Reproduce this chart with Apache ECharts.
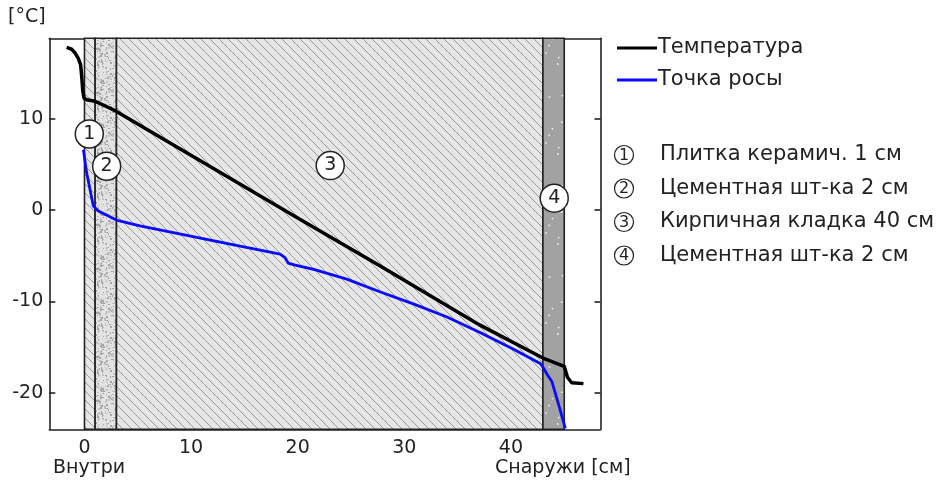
<!DOCTYPE html>
<html><head><meta charset="utf-8">
<script src="https://cdn.jsdelivr.net/npm/echarts@6/dist/echarts.min.js"></script>
<style>html,body{margin:0;padding:0;background:#fff}#c{width:940px;height:485px}</style>
</head><body><div id="c"></div>
<script>
// ---- data ----
const tempX = [-1.67, -1.2, -0.89, -0.58, -0.36, -0.26, -0.17, -0.05, 0.2, 1.0, 1.76, 3.0, 20.2, 27.7, 37.1, 43.0, 45.0, 45.3, 45.7, 46.8];
const tempY = [17.8, 17.6, 17.2, 16.6, 15.9, 14.6, 13.2, 12.26, 12.07, 11.9, 11.5, 10.8, -1.0, -6.1, -12.6, -16.2, -17.1, -18.3, -18.9, -19.0];
const dewX = [-0.1, 0.2, 0.52, 0.83, 1.3, 3.0, 5.2, 13.66, 18.35, 18.8, 19.1, 19.76, 21.5, 24.6, 27.7, 30.9, 34.0, 37.1, 40.2, 42.75, 43.0, 43.4, 43.85, 44.5, 45.1];
const dewY = [6.6, 4.1, 2.26, 0.44, -0.1, -1.1, -1.74, -3.74, -4.83, -5.2, -5.8, -6.03, -6.5, -7.56, -8.94, -10.3, -11.7, -13.4, -15.2, -16.8, -17.2, -18.0, -18.8, -21.4, -23.9];
const layerStart = [0, 1, 3, 43];
const layerEnd = [1, 3, 43, 45];
const layerNames = ['Плитка керамич. 1 см', 'Цементная шт-ка 2 см', 'Кирпичная кладка 40 см', 'Цементная шт-ка 2 см'];
const layerTexture = ['hatch', 'speckle', 'hatch', 'dots'];
const markerX = [0.45, 2.08, 23.05, 44.06];
const markerY = [8.33, 4.8, 4.87, 1.3];
const markerLabels = ['1', '2', '3', '4'];
const xTicks = [0, 10, 20, 30, 40];
const yTicks = [-20, -10, 0, 10];
const seriesNames = ['Температура', 'Точка росы'];
const seriesColors = ['#000000', '#0a0aff'];

// ---- textures ----
function makeCanvas(w, h) { const c = document.createElement('canvas'); c.width = w; c.height = h; return c; }
function lcg(seed) { let s = seed; return () => { s = (s * 1103515245 + 12345) % 2147483648; return s / 2147483648; }; }
function hatchTile() {
  const s = 9, c = makeCanvas(s, s), g = c.getContext('2d');
  g.fillStyle = '#e6e6e6'; g.fillRect(0, 0, s, s);
  g.strokeStyle = '#9a9a9a'; g.lineWidth = 1;
  for (const k of [-s, 0, s]) { g.beginPath(); g.moveTo(k - 1, -1); g.lineTo(k + s + 1, s + 1); g.stroke(); }
  return c;
}
function speckleTile() {
  const w = 30, h = 44, c = makeCanvas(w, h), g = c.getContext('2d');
  g.fillStyle = '#e2e2e2'; g.fillRect(0, 0, w, h);
  const r = lcg(11);
  for (let i = 0; i < 170; i++) {
    g.fillStyle = r() < 0.5 ? '#a4a4a4' : '#c0c0c0';
    const x = Math.floor(r() * w), y = Math.floor(r() * h);
    g.fillRect(x, y, r() < 0.5 ? 2 : 1, r() < 0.5 ? 2 : 1);
  }
  return c;
}
function dotsTile() {
  const w = 60, h = 90, c = makeCanvas(w, h), g = c.getContext('2d');
  g.fillStyle = '#a2a2a2'; g.fillRect(0, 0, w, h);
  const r = lcg(5);
  g.fillStyle = '#f0f0f0';
  for (let i = 0; i < 22; i++) { g.beginPath(); g.arc(r() * w, r() * h, 0.9, 0, Math.PI * 2); g.fill(); }
  return c;
}
const textures = { hatch: hatchTile(), speckle: speckleTile(), dots: dotsTile() };

const FONT = 'DejaVu Sans';
const chart = echarts.init(document.getElementById('c'), null, { renderer: 'canvas' });

const axisLineStyle = { color: '#222', width: 1.6 };
const legendRowsTop = [48, 80];
const legendRowsBottom = [155, 188.5, 222, 255.5];
const graphics = [
  { type: 'text', left: 8, top: 8, style: { text: '[°C]', font: '19px ' + FONT, fill: '#222' } },
  { type: 'text', left: 53, top: 459, style: { text: 'Внутри', font: '19px ' + FONT, fill: '#222' } },
  { type: 'text', left: 495, top: 459, style: { text: 'Снаружи [см]', font: '19px ' + FONT, fill: '#222' } }
];
seriesNames.forEach((n, i) => {
  graphics.push({ type: 'line', shape: { x1: 617, y1: legendRowsTop[i], x2: 657, y2: legendRowsTop[i] }, style: { stroke: seriesColors[i], lineWidth: 3 } });
  graphics.push({ type: 'text', x: 658, y: legendRowsTop[i], style: { text: n, font: '21px ' + FONT, fill: '#222', verticalAlign: 'middle' } });
});
layerNames.forEach((n, i) => {
  graphics.push({ type: 'circle', shape: { cx: 624, cy: legendRowsBottom[i], r: 9.5 }, style: { fill: '#fff', stroke: '#222', lineWidth: 1.2 } });
  graphics.push({ type: 'text', x: 624, y: legendRowsBottom[i] + 0.5, style: { text: markerLabels[i], font: '16px ' + FONT, fill: '#222', align: 'center', verticalAlign: 'middle' } });
  graphics.push({ type: 'text', x: 660, y: legendRowsBottom[i], style: { text: n, font: '21px ' + FONT, fill: '#222', verticalAlign: 'middle' } });
});

const option = {
  animation: false,
  backgroundColor: '#fff',
  textStyle: { fontFamily: FONT },
  grid: { left: 49.3, right: 339.5, top: 38.3, bottom: 55.7, containLabel: false },
  xAxis: [
    { type: 'value', min: -3.3, max: 48.4, position: 'bottom',
      axisLine: { show: true, onZero: false, lineStyle: axisLineStyle },
      axisTick: { show: true, inside: true, length: 6, customValues: xTicks, lineStyle: axisLineStyle },
      axisLabel: { customValues: xTicks, fontSize: 19, color: '#222', margin: 9, fontFamily: FONT },
      splitLine: { show: false } },
    { type: 'value', min: -3.3, max: 48.4, position: 'top',
      axisLine: { show: true, onZero: false, lineStyle: axisLineStyle },
      axisTick: { show: true, inside: true, length: 6, customValues: xTicks, lineStyle: axisLineStyle },
      axisLabel: { show: false }, splitLine: { show: false } }
  ],
  yAxis: [
    { type: 'value', min: -24, max: 18.8, position: 'left',
      axisLine: { show: true, onZero: false, lineStyle: axisLineStyle },
      axisTick: { show: true, inside: true, length: 6, customValues: yTicks, lineStyle: axisLineStyle },
      axisLabel: { customValues: yTicks, fontSize: 19, color: '#222', margin: 6, fontFamily: FONT },
      splitLine: { show: false } },
    { type: 'value', min: -24, max: 18.8, position: 'right',
      axisLine: { show: true, onZero: false, lineStyle: axisLineStyle },
      axisTick: { show: true, inside: true, length: 6, customValues: yTicks, lineStyle: axisLineStyle },
      axisLabel: { show: false }, splitLine: { show: false } }
  ],
  graphic: graphics,
  series: [
    { type: 'custom', name: 'layers', z: 1,
      data: layerStart.map((s, i) => [s, layerEnd[i], i]),
      encode: { x: [0, 1] },
      renderItem: (params, api) => {
        const cs = params.coordSys;
        const x0 = api.coord([api.value(0), 0])[0];
        const x1 = api.coord([api.value(1), 0])[0];
        const idx = api.value(2);
        return { type: 'rect', shape: { x: x0, y: cs.y, width: x1 - x0, height: cs.height },
          style: { fill: { image: textures[layerTexture[idx]], repeat: 'repeat' }, stroke: '#222', lineWidth: 1.6 } };
      }
    },
    { type: 'line', name: seriesNames[0], data: tempX.map((x, i) => [x, tempY[i]]), showSymbol: false, z: 5,
      lineStyle: { color: seriesColors[0], width: 3.5 }, clip: true },
    { type: 'line', name: seriesNames[1], data: dewX.map((x, i) => [x, dewY[i]]), showSymbol: false, z: 4,
      lineStyle: { color: seriesColors[1], width: 2.8 }, clip: true },
    { type: 'scatter', name: 'markers', z: 10, symbol: 'circle', symbolSize: 28,
      data: markerX.map((x, i) => [x, markerY[i], markerLabels[i]]),
      itemStyle: { color: '#fff', borderColor: '#222', borderWidth: 1.5, opacity: 1 },
      label: { show: true, position: 'inside', formatter: p => p.value[2], fontSize: 19, color: '#222', fontFamily: FONT } }
  ]
};
chart.setOption(option);
</script>
</body></html>
